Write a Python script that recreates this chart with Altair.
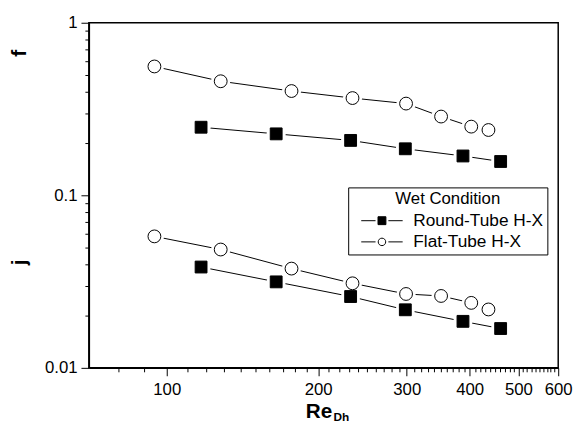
import altair as alt
import pandas as pd

# ---- data ----
series_names = ["Round-Tube H-X", "Flat-Tube H-X"]
re_round = [117, 165, 232, 298, 388, 461]
f_round = [0.248, 0.227, 0.208, 0.186, 0.169, 0.157]
j_round = [0.0384, 0.0315, 0.0259, 0.0217, 0.0186, 0.0169]
re_flat = [94.5, 128, 177, 234, 299, 351, 403, 436]
f_flat = [0.558, 0.458, 0.402, 0.366, 0.340, 0.286, 0.250, 0.239]
j_flat = [0.0578, 0.0485, 0.0376, 0.0309, 0.0268, 0.0261, 0.0238, 0.0218]

x_ticks = [80, 90] + list(range(100, 601, 10))
y_ticks = [0.01, 0.02, 0.03, 0.04, 0.05, 0.06, 0.07, 0.08, 0.09,
           0.1, 0.2, 0.3, 0.4, 0.5, 0.6, 0.7, 0.8, 0.9, 1]

rows = []
for name, re_vals, f_vals, j_vals in [
    (series_names[0], re_round, f_round, j_round),
    (series_names[1], re_flat, f_flat, j_flat),
]:
    for r, v in zip(re_vals, f_vals):
        rows.append({"Re": r, "val": v, "series": name, "grp": name + " f"})
    for r, v in zip(re_vals, j_vals):
        rows.append({"Re": r, "val": v, "series": name, "grp": name + " j"})
df = pd.DataFrame(rows)

FONT = "Liberation Sans"

x_enc = alt.X(
    "Re:Q",
    scale=alt.Scale(type="log", domain=[70, 600]),
    axis=alt.Axis(
        values=x_ticks,
        labelExpr="datum.value % 100 == 0 ? format(datum.value, 'd') : ''",
        tickSize={"condition": {"test": "datum.value % 100 == 0", "value": 8}, "value": 4},
        title=None, grid=False, labelFont=FONT, labelFontSize=17, labelColor="black",
        tickColor="black", tickWidth=1, domainColor="black", domainWidth=1.5,
        labelPadding=6, labelOverlap=False, labelFlush=False, labelBound=False,
    ),
)
y_enc = alt.Y(
    "val:Q",
    scale=alt.Scale(type="log", domain=[0.01, 1]),
    axis=alt.Axis(
        values=y_ticks,
        labelExpr="datum.value == 1 ? '1' : datum.value == 0.1 ? '0.1' : datum.value == 0.01 ? '0.01' : ''",
        tickSize={"condition": {"test": "datum.value == 1 || datum.value == 0.1 || datum.value == 0.01", "value": 8}, "value": 4},
        title=None, grid=False, labelFont=FONT, labelFontSize=17, labelColor="black",
        tickColor="black", tickWidth=1, domainColor="black", domainWidth=1.5,
        labelPadding=4, labelOverlap=False, labelFlush=False, labelBound=False,
    ),
)

# legend symbols: line - marker - line (units of 4 px for symbolSize 64)
sq_path = "M-5.25,0H-1.625M1.625,0H5.25M-1,-1H1V1H-1Z"
ci_path = "M-5.25,0H-1.625M1.625,0H5.25M0.95,0A0.95,0.95 0 1,1 -0.95,0A0.95,0.95 0 1,1 0.95,0Z"

leg = alt.Legend(
    title="Wet Condition", orient="none", legendX=263, legendY=167,
    titleFont=FONT, titleFontSize=17, titleFontWeight="normal", titleColor="black",
    titleAnchor="middle", titlePadding=4,
    labelFont=FONT, labelFontSize=17.5, labelColor="black", labelLimit=300,
    labelExpr="datum.label + ' '",
    symbolSize=64, symbolOffset=21.5, labelOffset=23,
    symbolStrokeColor="black", symbolStrokeWidth=1,
    strokeColor="black", fillColor="white", padding=4, rowPadding=2.5,
)

base = alt.Chart(df)

lines = base.mark_line(color="black", strokeWidth=1).encode(x=x_enc, y=y_enc, detail="grp:N")
halo = base.mark_circle(color="white", size=380, opacity=1).encode(x=x_enc, y=y_enc)
m_round = base.transform_filter(alt.datum.series == series_names[0]).mark_point(
    shape="square", size=144, fill="black", filled=True, stroke="black", strokeWidth=1, opacity=1
).encode(x=x_enc, y=y_enc)
m_flat = base.transform_filter(alt.datum.series == series_names[1]).mark_point(
    shape="circle", size=169, fill="white", filled=True, stroke="black", strokeWidth=1, opacity=1
).encode(x=x_enc, y=y_enc)

# legend-only layer (no rows drawn): its scales carry the legend symbols
legend_layer = base.transform_filter("false").mark_point(strokeWidth=1, opacity=1).encode(
    shape=alt.Shape("series:N", scale=alt.Scale(domain=series_names, range=[sq_path, ci_path]), legend=leg),
    fill=alt.Fill("series:N", scale=alt.Scale(domain=series_names, range=["black", "white"]), legend=leg),
    stroke=alt.Stroke("series:N", scale=alt.Scale(domain=series_names, range=["black", "black"]), legend=leg),
)

one = pd.DataFrame({"a": [0]})
t_re = alt.Chart(one).mark_text(text="Re", font=FONT, fontSize=21, fontWeight="bold",
                                align="left", baseline="alphabetic", color="black").encode(
    x=alt.value(220), y=alt.value(401))
t_dh = alt.Chart(one).mark_text(text="Dh", font=FONT, fontSize=12, fontWeight="bold",
                                align="left", baseline="alphabetic", color="black").encode(
    x=alt.value(248), y=alt.value(404))
t_f = alt.Chart(one).mark_text(text="f", font=FONT, fontSize=21, fontWeight="bold", angle=270,
                               align="center", baseline="middle", color="black").encode(
    x=alt.value(-70), y=alt.value(31))
t_j = alt.Chart(one).mark_text(text="j", font=FONT, fontSize=21, fontWeight="bold", angle=270,
                               align="center", baseline="middle", color="black").encode(
    x=alt.value(-70), y=alt.value(243))

chart = alt.layer(lines, halo, m_round, m_flat, legend_layer, t_re, t_dh, t_f, t_j).properties(
    width=476, height=350,
    autosize=alt.AutoSizeParams(type="none"),
    padding={"left": 82, "top": 12, "right": 15, "bottom": 55},
    background="white",
).configure_view(stroke="black", strokeWidth=1.5)

chart.save("out.html", embed_options={"renderer": "svg", "actions": False})
